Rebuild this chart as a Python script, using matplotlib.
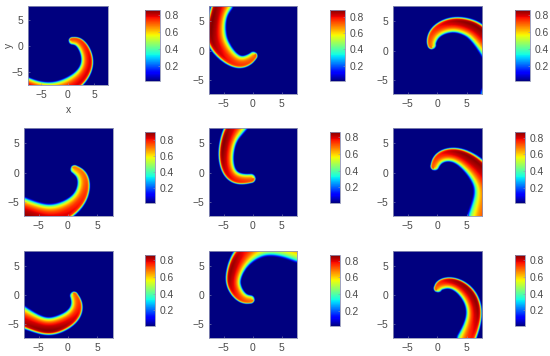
# Grid of nine crescent shaped fields with their colorbars
import numpy as np
import matplotlib
matplotlib.use('Agg')
import matplotlib.pyplot as plt

plt.rcParams['font.family'] = ['Liberation Sans', 'DejaVu Sans']
plt.rcParams['font.size'] = 7.4

W, H = 550, 356
TXT = '#4a4a4a'
EDGE = '#8f93b5'

# %% Data, one list per panel (row by row)
# ridge of each crescent, from the tip to the tail
ridge_x = [
    [0.9, 2.5, 3.9, 3.1, 0.6, -3.5, -7.6, -9.5],
    [0.1, -0.7, -2.4, -4.4, -5.9, -6.4, -6.05, -5.2],
    [-1.0, -1.05, -0.2, 2.7, 5.3, 7.3, 11.0, 10.0, 9.2],
    [1.1, 2.4, 2.7, 1.55, -2.0, -5.0, -8.0],
    [-0.3, -2.4, -4.1, -4.7, -4.1, -3.1, -1.8],
    [-0.5, 0.2, 2.5, 5.05, 7.6, 8.3, 8.0, 7.3],
    [1.0, 1.6, 0.8, -1.4, -3.4, -5.6, -8.4],
    [-0.4, -1.9, -3.3, -3.3, -2.2, 0.0, 2.5, 5.5, 8.0],
    [0.05, 0.6, 2.6, 5.0, 6.2, 5.9, 4.8],
]
ridge_y = [
    [1.0, 0.7, -2.4, -5.2, -7.5, -8.5, -7.5, -6.5],
    [-0.9, -1.6, -2.1, -0.8, 1.2, 3.0, 6.0, 8.0],
    [0.95, 1.7, 3.5, 4.6, 3.9, 2.6, -3.0, -6.0, -7.5],
    [0.55, -0.4, -2.5, -5.2, -7.3, -7.1, -6.2],
    [-1.0, -1.15, 0.0, 2.9, 5.9, 7.6, 9.5],
    [1.1, 2.6, 3.2, 2.1, -0.5, -3.0, -5.2, -7.6],
    [-0.1, -1.7, -3.7, -5.0, -5.5, -4.9, -3.5],
    [-0.75, -0.55, 1.5, 3.5, 6.2, 8.2, 9.0, 8.6, 7.7],
    [1.2, 1.9, 2.2, 0.5, -2.2, -5.0, -7.6],
]
half_width = [
    [0.72, 0.92, 1.12, 1.25, 1.6, 1.3, 1.4, 1.4],
    [0.72, 0.92, 1.08, 1.4, 1.7, 1.75, 1.45, 1.8],
    [0.72, 0.85, 1.08, 1.28, 1.5, 1.75, 2.0, 2.0, 1.9],
    [0.72, 0.95, 1.08, 1.32, 1.8, 1.8, 2.0],
    [0.78, 0.98, 1.12, 1.3, 1.4, 1.7, 1.9],
    [0.72, 0.98, 1.18, 1.6, 2.0, 2.05, 2.1, 2.2],
    [0.7, 1.0, 1.28, 1.45, 1.5, 1.5, 1.85],
    [0.72, 0.95, 1.18, 1.35, 1.7, 2.0, 2.05, 2.0, 2.0],
    [0.72, 0.95, 0.98, 1.3, 1.28, 1.35, 1.55],
]
ridge_peak = [
    [0.72, 0.75, 0.8, 0.8, 0.8, 0.8, 0.86, 0.86],
    [0.72, 0.74, 0.76, 0.8, 0.85, 0.88, 0.88, 0.85],
    [0.7, 0.72, 0.76, 0.84, 0.86, 0.86, 0.8, 0.8, 0.8],
    [0.7, 0.72, 0.76, 0.8, 0.84, 0.88, 0.89],
    [0.72, 0.76, 0.8, 0.85, 0.86, 0.82, 0.8],
    [0.72, 0.76, 0.84, 0.87, 0.85, 0.8, 0.76, 0.74],
    [0.7, 0.75, 0.8, 0.84, 0.86, 0.84, 0.82],
    [0.7, 0.74, 0.82, 0.86, 0.84, 0.76, 0.72, 0.7, 0.68],
    [0.7, 0.76, 0.84, 0.85, 0.85, 0.8, 0.76],
]
# level across the band, inner edge (-1) to outer edge (1), share of the ridge peak
across_pos = [-1.12, -1.0, -0.9, -0.75, -0.55, -0.3, 0.0, 0.5, 0.75, 0.88, 1.0, 1.12]
across_val = [0.0, 0.2, 0.42, 0.62, 0.76, 0.87, 0.95, 1.0, 0.95, 0.68, 0.3, 0.0]

cbar_top = [0.864, 0.88, 0.865, 0.895, 0.86, 0.87, 0.86, 0.868, 0.86]
cbar_bottom = 0.015
tick_vals = [-5, 0, 5]
cbar_ticks = [0.2, 0.4, 0.6, 0.8]

# %% Panel boxes in pixels: left, right, top, bottom
col_left = [24, 209, 393]
col_right = [112.5, 297, 482]
row_top = [6, 128, 251]
row_bottom = [94, 216, 338]
cbar_left = [145, 330, 515]


def smooth(points, n=14, win=15):
    # Catmull-Rom through the read points, then a double running mean to take the corners out
    p = np.vstack([points[0], points, points[-1]])
    out = []
    for i in range(1, len(p) - 2):
        t = np.linspace(0, 1, n, endpoint=False)[:, None]
        out.append(0.5 * (2 * p[i] + (p[i + 1] - p[i - 1]) * t
                          + (2 * p[i - 1] - 5 * p[i] + 4 * p[i + 1] - p[i + 2]) * t ** 2
                          + (3 * p[i] - p[i - 1] - 3 * p[i + 1] + p[i + 2]) * t ** 3))
    out.append(p[-2][None])
    c = np.vstack(out)
    box = np.ones(win) / win
    for _ in range(2):
        head = 2 * c[0] - c[win:0:-1]
        tail = 2 * c[-1] - c[-2:-win - 2:-1]
        padded = np.vstack([head, c, tail])
        c = np.column_stack([np.convolve(padded[:, i], box, mode='same')[win:-win]
                             for i in range(c.shape[1])])
    return c


def crescent(k, gx, gy):
    pts = np.column_stack([ridge_x[k], ridge_y[k], half_width[k], ridge_peak[k]])
    c = smooth(pts)
    tx, ty = np.gradient(c[:, 0]), np.gradient(c[:, 1])
    dx = gx[..., None] - c[:, 0]
    dy = gy[..., None] - c[:, 1]
    d2 = dx ** 2 + dy ** 2
    j = d2.argmin(axis=-1)
    near_x = np.take_along_axis(dx, j[..., None], -1)[..., 0]
    near_y = np.take_along_axis(dy, j[..., None], -1)[..., 0]
    # left of the travel direction is the outer, sharp side
    side = np.sign(tx[j] * near_y - ty[j] * near_x)
    s = side * np.sqrt(near_x ** 2 + near_y ** 2) / c[j, 2]
    return c[j, 3] * np.interp(s, across_pos, across_val, left=0, right=0)


def add_box(left, right, top, bottom):
    return fig.add_axes([left / W, 1 - bottom / H, (right - left) / W, (bottom - top) / H])


# %% Draw
fig = plt.figure(figsize=(W / 100, H / 100), dpi=100)
xs = np.linspace(-7.5, 7.6, 240)
ys = np.linspace(-7.4, 7.6, 240)
gx, gy = np.meshgrid(xs, ys)

for k in range(9):
    row, col = divmod(k, 3)
    if k == 0:
        ax = add_box(28, 108, 6, 85)
    else:
        ax = add_box(col_left[col], col_right[col], row_top[row], row_bottom[row])
    field = crescent(k, gx, gy)
    im = ax.imshow(field, origin='lower', extent=[xs[0], xs[-1], ys[0], ys[-1]],
                   cmap='jet', vmin=cbar_bottom, vmax=cbar_top[k], aspect='auto',
                   interpolation='bilinear')
    ax.set_xticks(tick_vals)
    ax.set_yticks(tick_vals)
    ax.tick_params(length=1.5, width=0.4, direction='in', color=EDGE, labelcolor=TXT, pad=3.5)
    for sp in ax.spines.values():
        sp.set_color(EDGE)
        sp.set_linewidth(0.6)
    if k == 0:
        ax.set_xlabel('x', color=TXT, labelpad=4)
        ax.set_ylabel('y', color=TXT, labelpad=-2)

    # first row colorbars are a bit wider
    cw = 15 if row == 0 else 10
    cax = add_box(cbar_left[col], cbar_left[col] + cw, row_top[row] + 4, row_top[row] + 75)
    cb = fig.colorbar(im, cax=cax, ticks=cbar_ticks)
    cb.ax.set_yticklabels([f'{v:.1f}' for v in cbar_ticks])
    cb.ax.tick_params(length=1.5, width=0.4, direction='in', color=EDGE, labelcolor=TXT, pad=3)
    cb.outline.set_edgecolor(EDGE)
    cb.outline.set_linewidth(0.6)

fig.savefig('out.png', dpi=100)
